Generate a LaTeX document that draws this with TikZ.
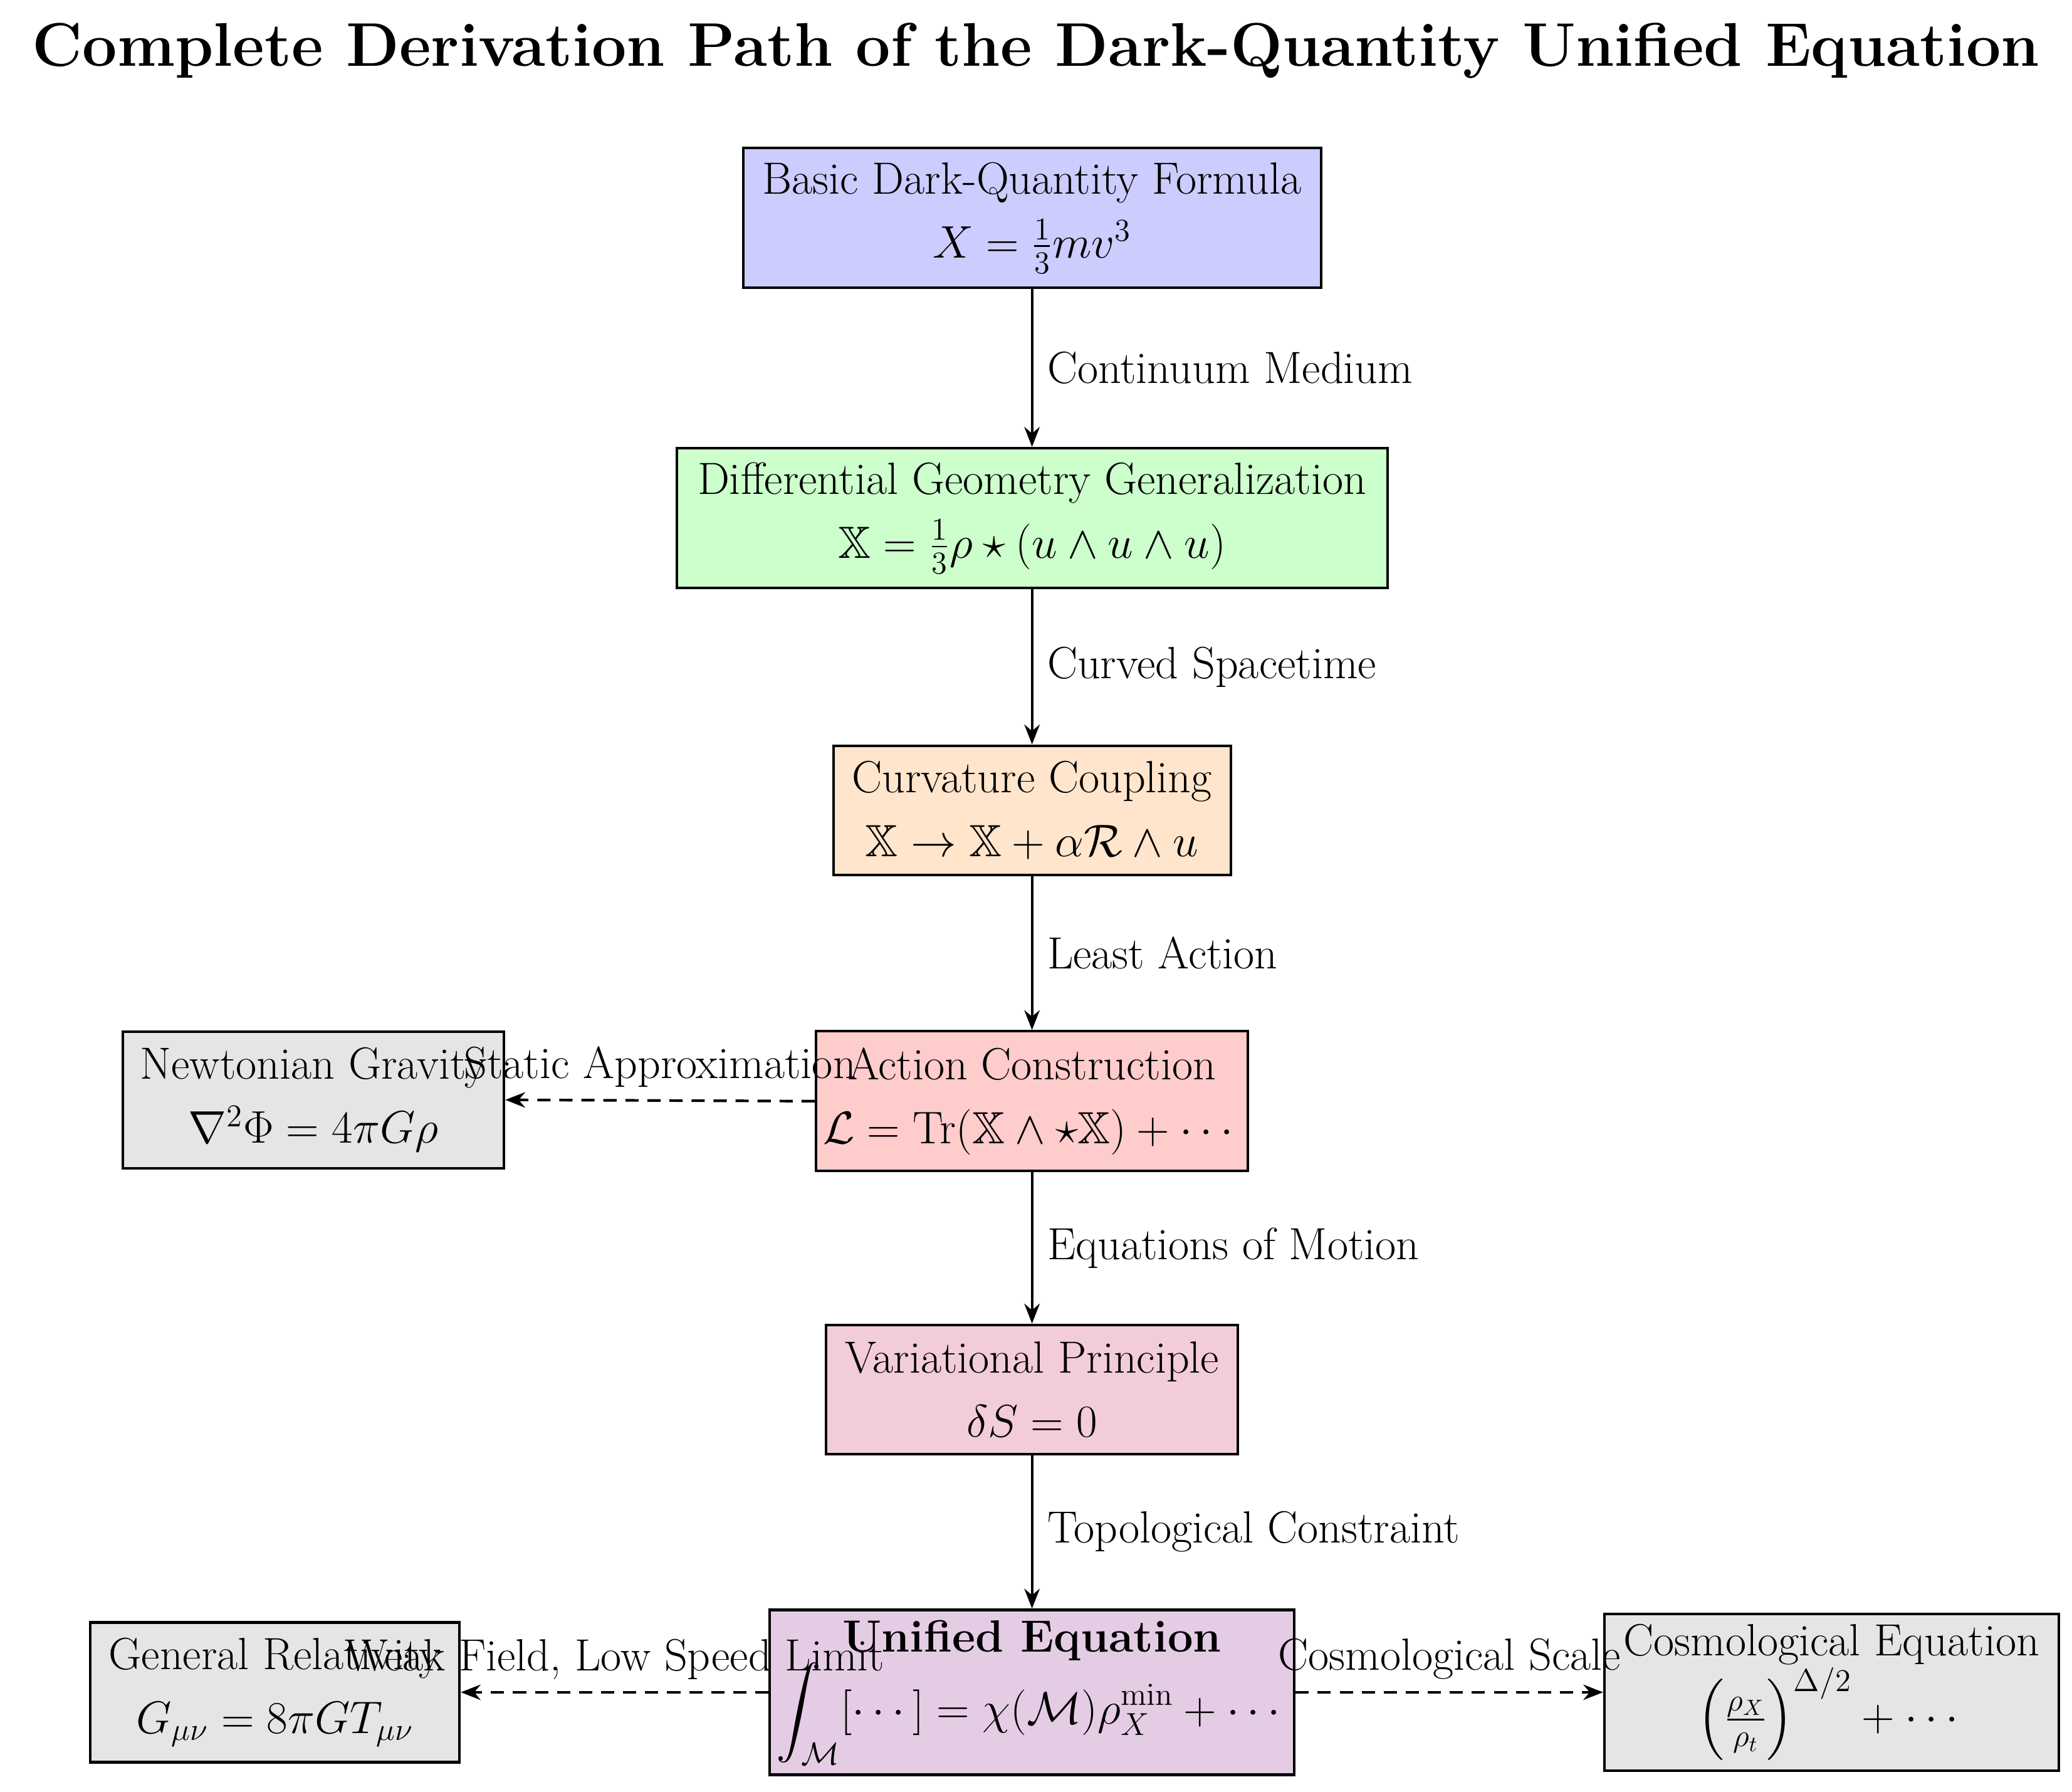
\documentclass[tikz,border=0pt]{standalone}
\usepackage{amsmath,amssymb}
\usetikzlibrary{arrows.meta}
\begin{document}
\begin{tikzpicture}[x=0.0212cm,y=-0.0212cm,
  box/.style={draw,line width=1.2pt,align=center,font=\fontsize{20.5}{29}\selectfont,inner sep=0pt},
  arr/.style={line width=1.2pt,-{Stealth[length=9pt,width=7pt]}},
  darr/.style={arr,dash pattern=on 6pt off 4pt},
  lab/.style={font=\fontsize{20.5}{24}\selectfont}]
\useasboundingbox (0,0) rectangle (1560,1349);
\node[font=\fontsize{28}{33}\selectfont\bfseries] (title) at (780,38) {Complete Derivation Path of the Dark-Quantity Unified Equation};
\node[box,fill=blue!20,minimum width=9.22cm,minimum height=2.23cm] (n1) at (777,164) {Basic Dark-Quantity Formula\\$X=\frac{1}{3}mv^3$};
\node[box,fill=green!20,minimum width=11.34cm,minimum height=2.23cm] (n2) at (777,390) {Differential Geometry Generalization\\$\mathbb{X}=\frac{1}{3}\rho\star(u\wedge u\wedge u)$};
\node[box,fill=orange!20,minimum width=6.34cm,minimum height=2.06cm] (n3) at (777,610) {Curvature Coupling\\$\mathbb{X}\to\mathbb{X}+\alpha\mathcal{R}\wedge u$};
\node[box,fill=red!20,minimum width=6.89cm,minimum height=2.23cm] (n4) at (777,829) {Action Construction\\$\mathcal{L}=\mathrm{Tr}(\mathbb{X}\wedge\star\mathbb{X})+\cdots$};
\node[box,fill=gray!20,minimum width=6.08cm,minimum height=2.18cm] (nw) at (236,828) {Newtonian Gravity\\$\nabla^2\Phi=4\pi G\rho$};
\node[box,fill=purple!20,minimum width=6.57cm,minimum height=2.06cm] (n5) at (777,1046) {Variational Principle\\$\delta S=0$};
\node[box,fill=violet!20,minimum width=8.37cm,minimum height=2.63cm] (n6) at (777,1274) {\textbf{Unified Equation}\\$\displaystyle\int_{\mathcal{M}}[\cdots]=\chi(\mathcal{M})\rho_X^{\min}+\cdots$};
\node[box,fill=gray!20,minimum width=5.89cm,minimum height=2.23cm] (gr) at (207,1274) {General Relativity\\$G_{\mu\nu}=8\pi GT_{\mu\nu}$};
\node[box,fill=gray!20,minimum width=7.25cm,minimum height=2.5cm] (co) at (1379,1274) {Cosmological Equation\\$\left(\frac{\rho_X}{\rho_t}\right)^{\Delta/2}+\cdots$};
\draw[arr] (n1) -- node[lab,right=3pt] {Continuum Medium} (n2);
\draw[arr] (n2) -- node[lab,right=3pt] {Curved Spacetime} (n3);
\draw[arr] (n3) -- node[lab,right=3pt] {Least Action} (n4);
\draw[arr] (n4) -- node[lab,right=3pt] {Equations of Motion} (n5);
\draw[arr] (n5) -- node[lab,right=3pt] {Topological Constraint} (n6);
\draw[darr] (n4.west) -- node[lab,above=2pt] {Static Approximation} (nw.east);
\draw[darr] (n6.west) -- node[lab,above=2pt] {Weak Field, Low Speed Limit} (gr.east);
\draw[darr] (n6.east) -- node[lab,above=2pt] {Cosmological Scale} (co.west);
\end{tikzpicture}
\end{document}
